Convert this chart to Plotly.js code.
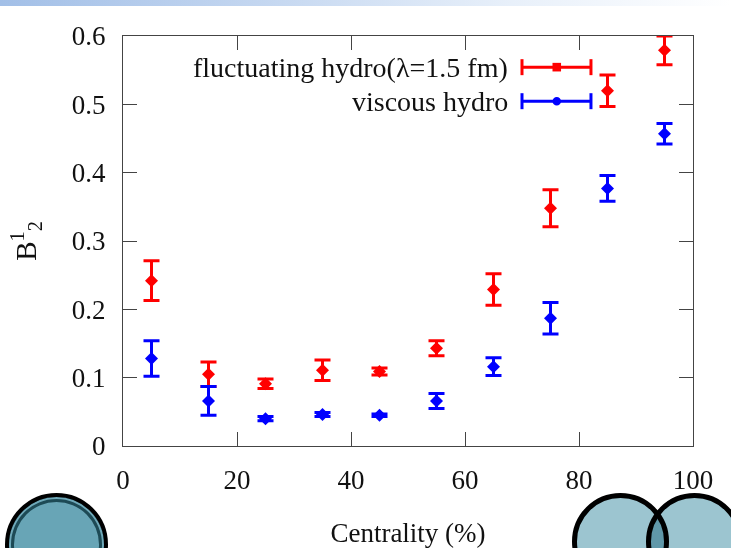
<!DOCTYPE html>
<html>
<head>
<meta charset="utf-8">
<script src="https://cdn.plot.ly/plotly-3.0.1.min.js"></script>
<style>
  html, body { margin:0; padding:0; background:#fff; }
  #wrap { position:relative; width:731px; height:548px; overflow:hidden; background:#fff; }
  #chart { position:absolute; left:0; top:0; width:731px; height:548px; }
  .topbar { position:absolute; left:0; top:0; width:731px; height:6px;
    background:linear-gradient(to right, #a2bfe7 0%, #c3d6f0 35%, #e8f0fa 70%, #ffffff 100%); pointer-events:none; }
  .circ { position:absolute; border-radius:50%; box-sizing:border-box; pointer-events:none; mix-blend-mode:multiply; }
  .c1 { left:5px; top:493px; width:103px; height:103px; background:#68a5b6; border:4px solid #000;
    box-shadow: inset 0 0 0 2px #6fa9b9, inset 0 0 0 5px #1d4a55; mix-blend-mode:normal; }
  .c2 { left:572px; top:493px; width:97px; height:97px; background:#9cc5d0; border:5px solid #000; }
  .c3 { left:646px; top:493px; width:97px; height:97px; background:#9cc5d0; border:5px solid #000; }
</style>
</head>
<body>
<div id="wrap">
  <div id="chart"></div>
  <div class="topbar"></div>
  <div class="circ c1"></div>
  <div class="circ c2"></div>
  <div class="circ c3"></div>
</div>
<script>
// Centrality bin centres (%)
const centrality = [5, 15, 25, 35, 45, 55, 65, 75, 85, 95];
// fluctuating hydro (lambda = 1.5 fm)
const fluctValues = [0.242, 0.105, 0.091, 0.111, 0.109, 0.143, 0.229, 0.348, 0.520, 0.579];
const fluctErrors = [0.029, 0.018, 0.007, 0.015, 0.005, 0.011, 0.023, 0.027, 0.023, 0.021];
// viscous hydro
const viscValues = [0.128, 0.066, 0.040, 0.046, 0.045, 0.066, 0.116, 0.187, 0.377, 0.457];
const viscErrors = [0.026, 0.021, 0.003, 0.003, 0.002, 0.011, 0.013, 0.023, 0.019, 0.015];
const seriesNames = ['fluctuating hydro(λ=1.5 fm)', 'viscous hydro'];
const xTicks = [0, 20, 40, 60, 80, 100];
const yTicks = [0, 0.1, 0.2, 0.3, 0.4, 0.5, 0.6];

const RED = '#ff0000', BLUE = '#0000ff';
const FONT = 'Liberation Serif, Times New Roman, serif';
const FS = 27;

const traces = [
  {
    x: centrality, y: fluctValues, type: 'scatter', mode: 'markers', name: seriesNames[0],
    marker: { symbol: 'diamond', size: 10, color: RED },
    error_y: { type: 'data', array: fluctErrors, visible: true, color: RED, thickness: 3, width: 8 },
    showlegend: false, cliponaxis: false
  },
  {
    x: centrality, y: viscValues, type: 'scatter', mode: 'markers', name: seriesNames[1],
    marker: { symbol: 'diamond', size: 10, color: BLUE },
    error_y: { type: 'data', array: viscErrors, visible: true, color: BLUE, thickness: 3, width: 8 },
    showlegend: false, cliponaxis: false
  }
];

// manual legend (key samples drawn in paper coordinates)
const legY = [0.924, 0.841];
const legColors = [RED, BLUE];
const kx0 = 0.700, kx1 = 0.821, kxm = 0.761, capH = 0.0195;
const shapes = [];
const annotations = [];
for (let i = 0; i < 2; i++) {
  const c = legColors[i], y = legY[i];
  shapes.push({ type:'line', xref:'paper', yref:'paper', x0:kx0, x1:kx1, y0:y, y1:y, line:{color:c, width:3} });
  shapes.push({ type:'line', xref:'paper', yref:'paper', x0:kx0, x1:kx0, y0:y-capH, y1:y+capH, line:{color:c, width:3} });
  shapes.push({ type:'line', xref:'paper', yref:'paper', x0:kx1, x1:kx1, y0:y-capH, y1:y+capH, line:{color:c, width:3} });
  const dx = 0.0075, dy = 0.0105;
  shapes.push({ type: i === 0 ? 'rect' : 'circle', xref:'paper', yref:'paper',
    x0:kxm-dx, x1:kxm+dx, y0:y-dy, y1:y+dy, fillcolor:c, line:{color:c, width:0} });
  annotations.push({ xref:'paper', yref:'paper', x:0.679, y:y, xanchor:'right', yanchor:'middle',
    text: seriesNames[i], showarrow:false, font:{family:FONT, size:28, color:'#111'} });
}

const axisCommon = {
  showgrid: false, zeroline: false, showline: true, linecolor: '#444', linewidth: 1,
  mirror: 'ticks', ticks: 'inside', ticklen: 14, tickcolor: '#444', tickwidth: 1,
  tickfont: { family: FONT, size: FS, color: '#111' }
};

const layout = {
  width: 731, height: 548,
  margin: { l: 123, r: 38, t: 36, b: 102 },
  paper_bgcolor: '#fff', plot_bgcolor: '#fff',
  xaxis: Object.assign({}, axisCommon, {
    range: [0, 100], tickvals: xTicks, ticktext: xTicks.map(String), ticklabelstandoff: 10,
    title: { text: 'Centrality (%)', font: { family: FONT, size: FS, color: '#111' }, standoff: 28 }
  }),
  yaxis: Object.assign({}, axisCommon, {
    range: [0, 0.6], tickvals: yTicks, ticktext: yTicks.map(v => v === 0 ? '0' : v.toFixed(1)),
    ticklabelstandoff: 11,
    title: { text: 'B<sup>1</sup><sub>2</sub>', font: { family: FONT, size: 29, color: '#111' }, standoff: 26 }
  }),
  shapes: shapes,
  annotations: annotations,
  showlegend: false
};

Plotly.newPlot('chart', traces, layout, { displayModeBar: false, staticPlot: true });
</script>
</body>
</html>
